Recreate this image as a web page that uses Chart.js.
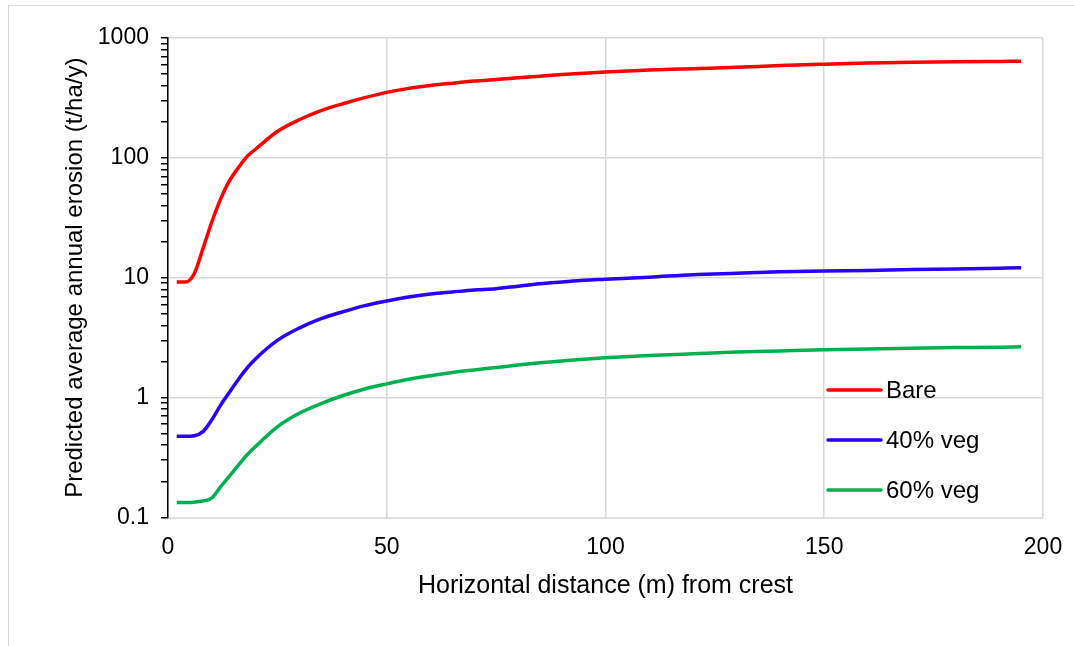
<!DOCTYPE html>
<html>
<head>
<meta charset="utf-8">
<script src="https://cdn.jsdelivr.net/npm/chart.js@4.4.1/dist/chart.umd.min.js"></script>
<style>
  html, body { margin: 0; padding: 0; background: #fff; }
  #wrap { position: relative; width: 1074px; height: 646px; overflow: hidden; }
  #frame { position: absolute; left: 8px; top: 5px; width: 1100px; height: 700px;
           border-left: 1px solid #d9d9d9; border-top: 1px solid #d9d9d9; }
  canvas { position: absolute; left: 0; top: 0; }
</style>
</head>
<body>
<div id="wrap">
  <div id="frame"></div>
  <canvas id="chart" width="1074" height="646"></canvas>
</div>
<script>
// horizontal distance from crest (m)
const distance = [2, 4, 6, 8, 10, 12, 14, 16, 18, 20,
  25, 30, 35, 40, 45, 50, 55, 60, 65, 70, 75, 80, 85, 90, 95, 100,
  110, 120, 130, 140, 150, 160, 170, 180, 190, 195];

// predicted average annual erosion (t/ha/y)
const bare = [9.2, 9.2, 10.8, 17.5, 29, 45, 64, 82, 102, 118,
  166, 208, 248, 283, 318, 352, 380, 402, 420, 437, 450, 465, 480, 495, 508, 520,
  540, 555, 570, 590, 605, 618, 628, 634, 638, 640];
const veg40 = [0.475, 0.475, 0.48, 0.52, 0.65, 0.86, 1.1, 1.4, 1.75, 2.1,
  3.0, 3.8, 4.55, 5.2, 5.85, 6.4, 6.9, 7.3, 7.6, 7.9, 8.1, 8.5, 8.9, 9.2, 9.5, 9.7,
  10.1, 10.6, 10.9, 11.2, 11.4, 11.5, 11.7, 11.8, 12.0, 12.1];
const veg60 = [0.133, 0.133, 0.134, 0.137, 0.145, 0.18, 0.22, 0.27, 0.33, 0.39,
  0.57, 0.74, 0.89, 1.04, 1.18, 1.3, 1.42, 1.52, 1.62, 1.70, 1.78, 1.87, 1.95, 2.02, 2.09, 2.15,
  2.24, 2.32, 2.40, 2.45, 2.50, 2.54, 2.58, 2.61, 2.63, 2.65];

const seriesNames = ['Bare', '40% veg', '60% veg'];
const seriesColors = ['#ff0000', '#2800ff', '#00b050'];
const xTicks = [0, 50, 100, 150, 200];
const yDecades = [0.1, 1, 10, 100, 1000];

const FONT = '"Liberation Sans", Arial, sans-serif';

// minor ticks 2..9 inside every decade, majors at powers of ten
const yTicks = [];
yDecades.forEach((d, i) => {
  yTicks.push(d);
  if (i < yDecades.length - 1) {
    for (let m = 2; m <= 9; m++) yTicks.push(+(d * m).toPrecision(3));
  }
});

function isDecade(v) {
  return yDecades.some(d => Math.abs(d - v) < d * 1e-6);
}

function toPoints(ys) {
  return distance.map((x, i) => ({ x, y: ys[i] }));
}

const insideLegend = {
  id: 'insideLegend',
  afterDatasetsDraw(chart) {
    const { ctx, chartArea } = chart;
    const x0 = chartArea.right - 215;
    let y = chartArea.top + 352;
    ctx.save();
    ctx.font = '24px ' + FONT;
    ctx.textBaseline = 'middle';
    chart.data.datasets.forEach(ds => {
      ctx.strokeStyle = ds.borderColor;
      ctx.lineWidth = 3.5;
      ctx.lineCap = 'round';
      ctx.beginPath();
      ctx.moveTo(x0, y);
      ctx.lineTo(x0 + 53, y);
      ctx.stroke();
      ctx.fillStyle = '#000';
      ctx.fillText(ds.label, x0 + 58, y + 1);
      y += 50;
    });
    ctx.restore();
  }
};

const ctx = document.getElementById('chart').getContext('2d');
new Chart(ctx, {
  type: 'line',
  data: {
    datasets: [bare, veg40, veg60].map((ys, i) => ({
      label: seriesNames[i],
      data: toPoints(ys),
      borderColor: seriesColors[i],
      backgroundColor: seriesColors[i],
      borderWidth: 3.5,
      pointRadius: 0,
      cubicInterpolationMode: 'monotone',
      fill: false
    }))
  },
  options: {
    responsive: false,
    animation: false,
    layout: { padding: { left: 61, right: 31, top: 38, bottom: 45 } },
    plugins: {
      legend: { display: false },
      tooltip: { enabled: false }
    },
    scales: {
      x: {
        type: 'linear',
        min: 0,
        max: 200,
        afterBuildTicks: axis => { axis.ticks = xTicks.map(value => ({ value })); },
        afterFit: axis => { axis.paddingRight = 0; },
        grid: { color: '#d9d9d9', lineWidth: 1.5, drawTicks: false },
        border: { color: '#d9d9d9', width: 1.5 },
        ticks: { color: '#000', padding: 16, font: { family: FONT, size: 23 } },
        title: {
          display: true,
          text: 'Horizontal distance (m) from crest',
          color: '#000',
          font: { family: FONT, size: 25 },
          padding: { top: -6, bottom: 0 }
        }
      },
      y: {
        type: 'logarithmic',
        min: 0.1,
        max: 1000,
        afterBuildTicks: axis => { axis.ticks = yTicks.map(value => ({ value })); },
        grid: {
          color: c => isDecade(c.tick.value) ? '#d9d9d9' : 'rgba(0,0,0,0)',
          lineWidth: 1.5,
          tickColor: '#000',
          tickLength: 7,
          tickWidth: 1.5
        },
        border: { color: '#000', width: 1.5 },
        ticks: {
          autoSkip: false,
          color: '#000',
          padding: 12,
          font: { family: FONT, size: 23 },
          callback: v => isDecade(v) ? String(v) : ''
        },
        title: {
          display: true,
          text: 'Predicted average annual erosion (t/ha/y)',
          color: '#000',
          font: { family: FONT, size: 24 },
          padding: { top: 0, bottom: -4 }
        }
      }
    }
  },
  plugins: [insideLegend]
});
</script>
</body>
</html>
